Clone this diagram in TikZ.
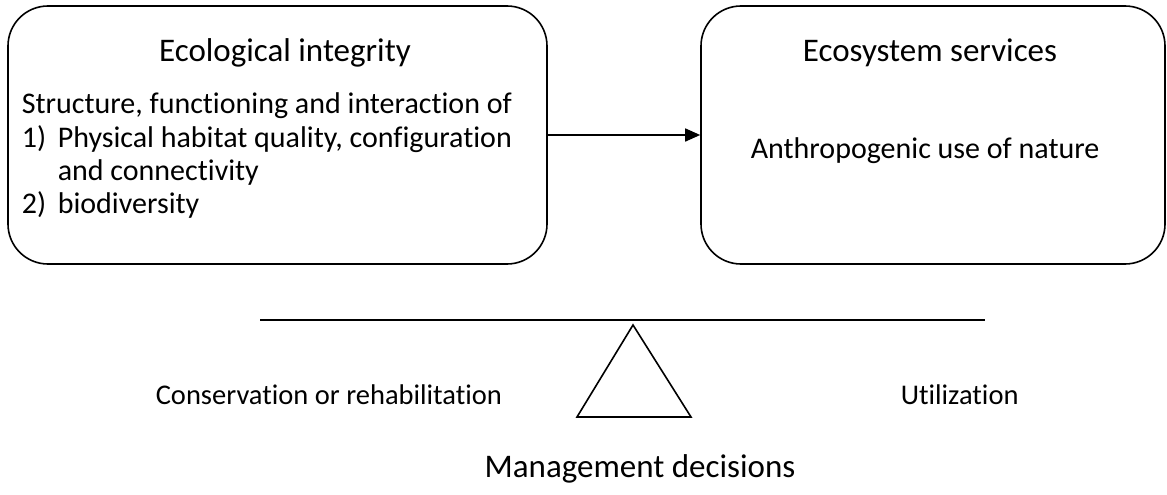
\documentclass[tikz,border=0pt]{standalone}
\usepackage{fontspec}
\setmainfont{Carlito}[Ligatures=NoCommon]
\usetikzlibrary{arrows.meta}
\usetikzlibrary{positioning}
\tikzset{
  frame box/.style = {draw, line width=1.6pt, rounded corners=40pt, inner sep=0pt}
}
\tikzset{
  title text/.style = {font = \fontsize{33}{40}\selectfont}
}
\tikzset{
  body text/.style = {font = \fontsize{30}{36}\selectfont, inner sep=0pt}
}
\tikzset{
  side text/.style = {font = \fontsize{28.5}{34}\selectfont, inner sep=0pt}
}
\tikzset{
    >={Triangle[length=15pt, width=13pt]}
}

\begin{document}
\begin{tikzpicture}[x=1pt, y=-1pt, line width=1.6pt]
  \useasboundingbox (0,0) rectangle (1167,495);

  % Boxes
  \node[frame box, minimum width=539pt, minimum height=258pt] (integrity) at (277.5,135) {};
  \node[frame box, minimum width=464pt, minimum height=258pt] (services) at (933,135) {};

  \draw[->] (integrity.east) -- (services.west);

  % Left box text
  \node[title text] (integrityT) at (285,53) {Ecological integrity};
  \node[body text, anchor=base west] (struct) at (21,113) {Structure, functioning and interaction of};
  \node[body text, anchor=base west] (numA) at (21,147) {1)};
  \node[body text, anchor=base west] (itemA) at (57,147) {Physical habitat quality, configuration};
  \node[body text, anchor=base west] (itemAb) at (57,180) {and connectivity};
  \node[body text, anchor=base west] (numB) at (21,213) {2)};
  \node[body text, anchor=base west] (itemB) at (57,213) {biodiversity};

  % Right box text
  \node[title text] (servicesT) at (930,53) {Ecosystem services};
  \node[body text, anchor=base west] (use) at (750,158) {Anthropogenic use of nature};

  % Balance
  \coordinate (beamL) at (260,320);
  \coordinate (beamR) at (985,320);
  \draw (beamL) -- (beamR);
  \coordinate (apex) at (633,325);
  \coordinate (baseL) at (577,417);
  \coordinate (baseR) at (691,417);
  \draw[line join=miter] (apex) -- (baseR) -- (baseL) -- cycle;

  \node[side text, anchor=base west] (conserv) at (155,404) {Conservation or rehabilitation};
  \node[side text, anchor=base west] (util) at (900,404) {Utilization};

  % Label
  \node[title text] (decide) at (640,469) {Management decisions};
\end{tikzpicture}
\end{document}
